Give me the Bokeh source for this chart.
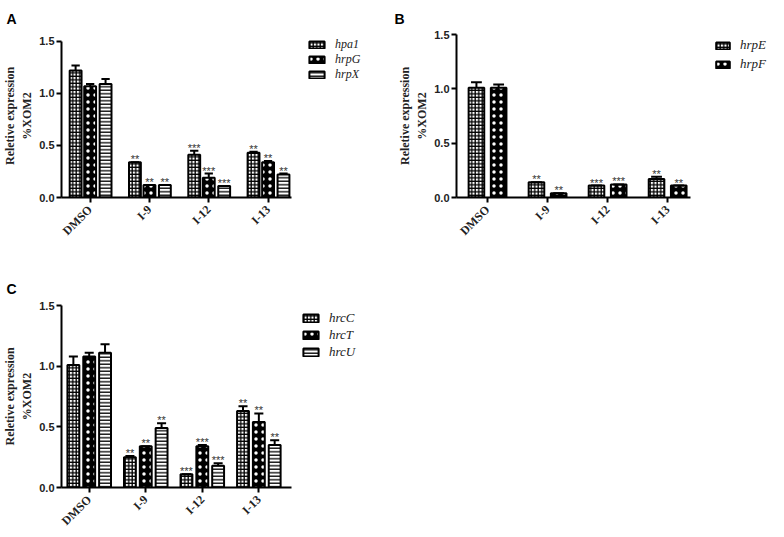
from bokeh.plotting import figure
from bokeh.models import (ColumnDataSource, FixedTicker, Legend, LegendItem, Range1d,
                          NumeralTickFormatter)
from bokeh.layouts import column, row
from bokeh.core.properties import value
from bokeh.embed import file_html
from bokeh.resources import INLINE

cats = ["DMSO", "I-9", "I-12", "I-13"]
yticks = [0.0, 0.5, 1.0, 1.5]
y_label = "Reletive expression\n%XOM2"

# ---- Panel A ----
a_names = ["hpa1", "hrpG", "hrpX"]
a_hpa1 = [1.22, 0.34, 0.41, 0.43]
a_hpa1_err = [0.05, 0.00, 0.04, 0.01]
a_hpa1_sig = ["", "**", "***", "**"]
a_hrpG = [1.07, 0.12, 0.19, 0.34]
a_hrpG_err = [0.02, 0.00, 0.04, 0.01]
a_hrpG_sig = ["", "**", "***", "**"]
a_hrpX = [1.09, 0.12, 0.11, 0.22]
a_hrpX_err = [0.05, 0.00, 0.00, 0.01]
a_hrpX_sig = ["", "**", "***", "**"]

# ---- Panel B ----
b_names = ["hrpE", "hrpF"]
b_hrpE = [1.01, 0.14, 0.11, 0.17]
b_hrpE_err = [0.05, 0.00, 0.00, 0.02]
b_hrpE_sig = ["", "**", "***", "**"]
b_hrpF = [1.01, 0.04, 0.12, 0.11]
b_hrpF_err = [0.03, 0.00, 0.00, 0.00]
b_hrpF_sig = ["", "**", "***", "**"]

# ---- Panel C ----
c_names = ["hrcC", "hrcT", "hrcU"]
c_hrcC = [1.01, 0.25, 0.11, 0.63]
c_hrcC_err = [0.07, 0.01, 0.00, 0.04]
c_hrcC_sig = ["", "**", "***", "**"]
c_hrcT = [1.08, 0.34, 0.34, 0.54]
c_hrcT_err = [0.03, 0.00, 0.01, 0.07]
c_hrcT_sig = ["", "**", "***", "**"]
c_hrcU = [1.11, 0.49, 0.18, 0.35]
c_hrcU_err = [0.07, 0.04, 0.02, 0.04]
c_hrcU_sig = ["", "**", "***", "**"]

STYLE = [
    dict(fill_color="white", hatch_pattern="cross", hatch_scale=3.5, hatch_weight=1.3, hatch_color="black"),
    dict(fill_color="black", hatch_pattern="dot", hatch_scale=7, hatch_weight=3.5, hatch_color="white"),
    dict(fill_color="white", hatch_pattern="horizontal_line", hatch_scale=3.5, hatch_weight=1.3,
         hatch_color="black"),
]


def panel(letter, width, height, borders, standoff, xr, xbound, y_end, names, series, offsets,
          bar_w, cap_w, leg_xy, leg_spacing, leg_gw, leg_gh, leg_font):
    bl, br, bt, bb = borders
    p = figure(width=width, height=height, output_backend="svg", toolbar_location=None,
               x_range=Range1d(*xr), y_range=Range1d(0, y_end),
               min_border_left=bl, min_border_right=br, min_border_top=bt, min_border_bottom=bb)
    p.outline_line_color = None
    p.xgrid.visible = False
    p.ygrid.visible = False
    p.border_fill_color = "white"

    p.title.text = letter
    p.title.align = "left"
    p.title.offset = -(bl - 2)
    p.title.standoff = standoff
    p.title.text_font = "Liberation Sans"
    p.title.text_font_style = "bold"
    p.title.text_font_size = "14px"
    p.title.text_color = "black"

    items = []
    for i, (name, (vals, errs, sigs)) in enumerate(zip(names, series)):
        xs = [j + offsets[i] for j in range(len(cats))]
        tops = [v + e for v, e in zip(vals, errs)]
        src = ColumnDataSource(dict(x=xs, top=vals, etop=tops,
                                    cl=[x - cap_w for x in xs], cr=[x + cap_w for x in xs],
                                    sig=sigs))
        r = p.vbar(x="x", top="top", bottom=0, width=bar_w, source=src,
                   line_color="black", line_width=2, **STYLE[i])
        p.segment(x0="x", y0="top", x1="x", y1="etop", source=src, line_color="black", line_width=2)
        p.segment(x0="cl", y0="etop", x1="cr", y1="etop", source=src, line_color="black", line_width=2)
        p.text(x="x", y="etop", text="sig", source=src, text_align="center", text_baseline="bottom",
               text_font=value("Liberation Sans"), text_font_size="11px", text_color="#333333",
               y_offset=3)
        items.append(LegendItem(label=name, renderers=[r]))

    leg = Legend(items=items, location=leg_xy, padding=0, margin=0, spacing=leg_spacing,
                 glyph_width=leg_gw, glyph_height=leg_gh, label_height=leg_gh, label_standoff=9,
                 label_text_font="Liberation Serif", label_text_font_style="italic",
                 label_text_font_size=leg_font, label_text_color="#222222",
                 border_line_color=None, background_fill_alpha=0)
    p.add_layout(leg)

    for ax in (p.xaxis, p.yaxis):
        ax.axis_line_width = 2
        ax.axis_line_color = "black"
        ax.major_tick_line_width = 2
        ax.major_tick_out = 5
        ax.major_tick_in = 0
        ax.minor_tick_line_color = None
        ax.major_label_text_color = "#222222"

    p.xaxis.ticker = FixedTicker(ticks=list(range(len(cats))))
    p.xaxis.major_label_overrides = {j: c for j, c in enumerate(cats)}
    p.xaxis.major_label_orientation = 0.785
    p.xaxis.major_label_text_font = "Liberation Serif"
    p.xaxis.major_label_text_font_style = "bold"
    p.xaxis.major_label_text_font_size = "12px"
    p.xaxis.bounds = (xr[0], xbound)

    p.yaxis.ticker = FixedTicker(ticks=yticks)
    p.yaxis.bounds = (0, 1.5)
    p.yaxis.formatter = NumeralTickFormatter(format="0.0")
    p.yaxis.major_label_text_font = "Liberation Sans"
    p.yaxis.major_label_text_font_style = "bold"
    p.yaxis.major_label_text_font_size = "11px"
    p.yaxis.major_label_standoff = 2
    p.yaxis.axis_label = y_label
    p.yaxis.axis_label_text_font = "Liberation Serif"
    p.yaxis.axis_label_text_font_style = "bold"
    p.yaxis.axis_label_text_font_size = "12px"
    p.yaxis.axis_label_text_color = "#222222"
    p.yaxis.axis_label_standoff = 2
    return p


pA = panel("A", 392, 260, (57, 7, 33, 63), 16, (-0.483, 4.98), 3.4, 1.567, a_names,
           [(a_hpa1, a_hpa1_err, a_hpa1_sig), (a_hrpG, a_hrpG_err, a_hrpG_sig),
            (a_hrpX, a_hrpX_err, a_hrpX_sig)],
           [-0.245, 0.0, 0.26], 0.2, 0.07, (246, 115), 0, 19, 9, "12px")

pB = panel("B", 392, 260, (64, 4, 33, 63), 16, (-0.517, 4.88), 3.38, 1.5, b_names,
           [(b_hrpE, b_hrpE_err, b_hrpE_sig), (b_hrpF, b_hrpF_err, b_hrpF_sig)],
           [-0.185, 0.185], 0.26, 0.09, (258, 125), 3, 17, 9, "13px")

pC = panel("C", 392, 277, (57, 7, 45, 50), 17, (-0.49, 5.24), 3.58, 1.5, c_names,
           [(c_hrcC, c_hrcC_err, c_hrcC_sig), (c_hrcT, c_hrcT_err, c_hrcT_sig),
            (c_hrcU, c_hrcU_err, c_hrcU_sig)],
           [-0.28, 0.0, 0.28], 0.21, 0.08, (240, 127), 1, 19, 10, "13px")

layout = column(row(pA, pB), pC)
open("out.html", "w").write(file_html(layout, INLINE))
